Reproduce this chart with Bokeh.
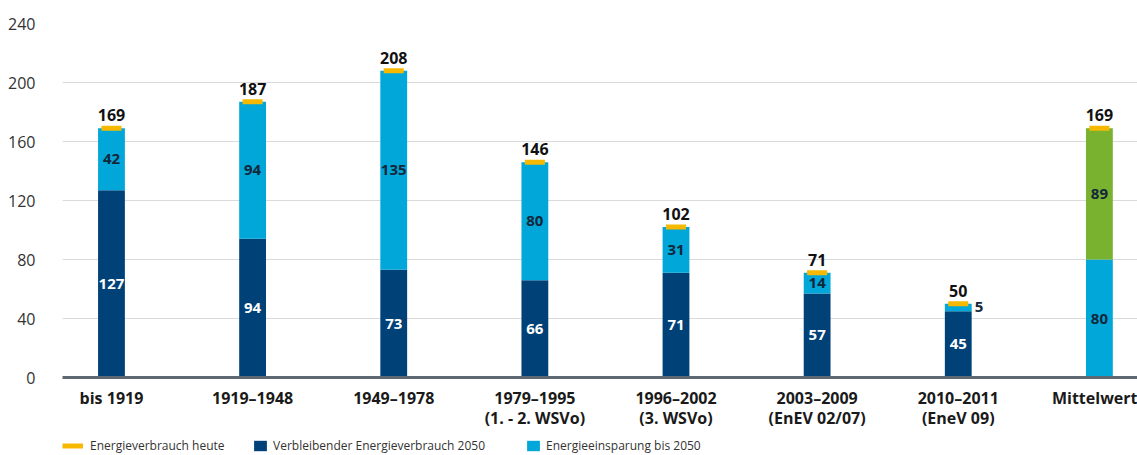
from bokeh.plotting import figure
from bokeh.layouts import column
from bokeh.models import ColumnDataSource, FixedTicker, Legend, LegendItem, Range1d
from bokeh.embed import file_html
from bokeh.resources import INLINE
from bokeh.core.properties import value

# ---- data ----
categories = ["bis 1919", "1919–1948", "1949–1978", "1979–1995\n(1. - 2. WSVo)",
              "1996–2002\n(3. WSVo)", "2003–2009\n(EnEV 02/07)", "2010–2011\n(EneV 09)",
              "Mittelwert"]
verbrauch_heute = [169, 187, 208, 146, 102, 71, 50, 169]
verbleibend_2050 = [127, 94, 73, 66, 71, 57, 45]
einsparung_2050 = [42, 94, 135, 80, 31, 14, 5]
mittelwert_unten = [80]
mittelwert_oben = [89]
y_ticks = [0, 40, 80, 120, 160, 200, 240]

# ---- styles ----
DARK = "#004178"
LIGHT = "#00a7d8"
GREEN = "#79b22e"
YELLOW = "#f6b800"
FONT = "Open Sans"
BAR_W = 0.19

n = len(categories)
xs = list(range(n))
ne = len(verbleibend_2050)
xe = xs[:ne]
xm = xs[ne:]

p = figure(width=1137, height=432, output_backend="svg", toolbar_location=None,
           x_range=Range1d(-0.347, 7.270), y_range=Range1d(0, 240),
           min_border_left=62, min_border_right=0, min_border_top=23, min_border_bottom=55)
p.outline_line_color = None
p.background_fill_color = "white"

src_e = ColumnDataSource(dict(
    x=xe,
    rest=verbleibend_2050,
    top=verbrauch_heute[:ne],
    mid_rest=[r / 2 for r in verbleibend_2050],
    mid_save=[(r + t) / 2 for r, t in zip(verbleibend_2050, verbrauch_heute[:ne])],
    lbl_rest=[str(v) for v in verbleibend_2050],
))
p.vbar(x="x", bottom=0, top="rest", width=BAR_W, fill_color=DARK, line_color=None, source=src_e)
p.vbar(x="x", bottom="rest", top="top", width=BAR_W, fill_color=LIGHT, line_color=None, source=src_e)

src_m = ColumnDataSource(dict(
    x=xm,
    low=mittelwert_unten,
    high=[a + b for a, b in zip(mittelwert_unten, mittelwert_oben)],
    mid_low=[a / 2 for a in mittelwert_unten],
    mid_high=[a + b / 2 for a, b in zip(mittelwert_unten, mittelwert_oben)],
    lbl_low=[str(a) for a in mittelwert_unten],
    lbl_high=[str(b) for b in mittelwert_oben],
))
p.vbar(x="x", bottom=0, top="low", width=BAR_W, fill_color=LIGHT, line_color=None, source=src_m)
p.vbar(x="x", bottom="low", top="high", width=BAR_W, fill_color=GREEN, line_color=None, source=src_m)

# today's consumption caps
src_t = ColumnDataSource(dict(
    x0=[x - 0.071 for x in xs], x1=[x + 0.071 for x in xs], y=verbrauch_heute,
    xc=xs, lbl=[str(v) for v in verbrauch_heute]))
p.segment(x0="x0", y0="y", x1="x1", y1="y", line_color=YELLOW, line_width=5,
          line_cap="butt", source=src_t)

# total labels
p.text(x="xc", y="y", text="lbl", source=src_t, text_align="center", text_baseline="bottom",
       y_offset=-7, text_font=value(FONT), text_font_size="16px", text_font_style="bold",
       text_color="#111111")

# inside labels
p.text(x="x", y="mid_rest", text="lbl_rest", source=src_e, text_align="center",
       text_baseline="middle", text_font=value(FONT), text_font_size="15px",
       text_font_style="bold", text_color="white")

big = [i for i, s in enumerate(einsparung_2050) if s >= 10]
small = [i for i, s in enumerate(einsparung_2050) if s < 10]
src_in = ColumnDataSource(dict(x=[xe[i] for i in big], y=[src_e.data["mid_save"][i] for i in big],
                               t=[str(einsparung_2050[i]) for i in big]))
src_out = ColumnDataSource(dict(x=[xe[i] + BAR_W / 2 for i in small],
                                y=[src_e.data["mid_save"][i] for i in small],
                                t=[str(einsparung_2050[i]) for i in small]))
LBL = dict(text_font=value(FONT), text_font_size="15px", text_font_style="bold", text_color="#14263a")
p.text(x="x", y="y", text="t", source=src_in, text_align="center", text_baseline="middle", **LBL)
p.text(x="x", y="y", text="t", source=src_out, text_align="left", text_baseline="middle",
       x_offset=3, **LBL)
p.text(x="x", y="mid_low", text="lbl_low", source=src_m, text_align="center", text_baseline="middle", **LBL)
p.text(x="x", y="mid_high", text="lbl_high", source=src_m, text_align="center", text_baseline="middle", **LBL)

# axes
p.xaxis.ticker = FixedTicker(ticks=xs)
p.xaxis.major_label_overrides = {i: c for i, c in enumerate(categories)}
p.xaxis.major_tick_line_color = None
p.xaxis.minor_tick_line_color = None
p.xaxis.axis_line_color = "#5d6872"
p.xaxis.axis_line_width = 3
p.xaxis.major_label_standoff = 3
p.xaxis.major_label_text_font = FONT
p.xaxis.major_label_text_font_size = "16px"
p.xaxis.major_label_text_font_style = "bold"
p.xaxis.major_label_text_color = "#1a1a1a"
p.xaxis.major_label_text_line_height = 0.92

p.yaxis.ticker = FixedTicker(ticks=y_ticks)
p.yaxis.axis_line_color = None
p.yaxis.major_tick_line_color = None
p.yaxis.minor_tick_line_color = None
p.yaxis.major_label_standoff = 21
p.yaxis.major_label_text_font = FONT
p.yaxis.major_label_text_font_size = "16px"
p.yaxis.major_label_text_color = "#333333"

p.xgrid.grid_line_color = None
p.ygrid.ticker = FixedTicker(ticks=y_ticks)
p.ygrid.grid_line_color = "#dadada"
p.ygrid.grid_line_width = 1

# ---- legend strip (glyphs share the sources, kept out of view) ----
lg = figure(width=1137, height=23, output_backend="svg", toolbar_location=None,
            x_range=Range1d(0, 1), y_range=Range1d(1000, 1001),
            x_axis_location=None, y_axis_location=None,
            min_border_left=0, min_border_right=0, min_border_top=0, min_border_bottom=0)
lg.outline_line_color = None
lg.grid.visible = False
l_cap = lg.segment(x0="x0", y0="y", x1="x1", y1="y", line_color=YELLOW, line_width=5,
                   line_cap="butt", source=src_t)
l_dark = lg.vbar(x="x", bottom=0, top="rest", width=BAR_W, fill_color=DARK, line_color=None, source=src_e)
l_light = lg.vbar(x="x", bottom="rest", top="top", width=BAR_W, fill_color=LIGHT, line_color=None, source=src_e)


def add_leg(label, renderer, vx, gw, standoff):
    leg = Legend(items=[LegendItem(label=label, renderers=[renderer])],
                 location=(vx, 1), orientation="horizontal",
                 glyph_width=gw, glyph_height=13, label_height=13, label_standoff=standoff,
                 padding=0, margin=0, border_line_color=None, background_fill_alpha=0,
                 label_text_font=FONT, label_text_font_size="12px", label_text_color="#333333")
    lg.add_layout(leg, "center")


add_leg("Energieverbrauch heute", l_cap, 0, 21, 7)
add_leg("Verbleibender Energieverbrauch 2050", l_dark, 190, 16, 5)
add_leg("Energieeinsparung bis 2050", l_light, 463, 16, 5)

layout = column(p, lg, spacing=0)
open("out.html", "w").write(file_html(layout, INLINE))
